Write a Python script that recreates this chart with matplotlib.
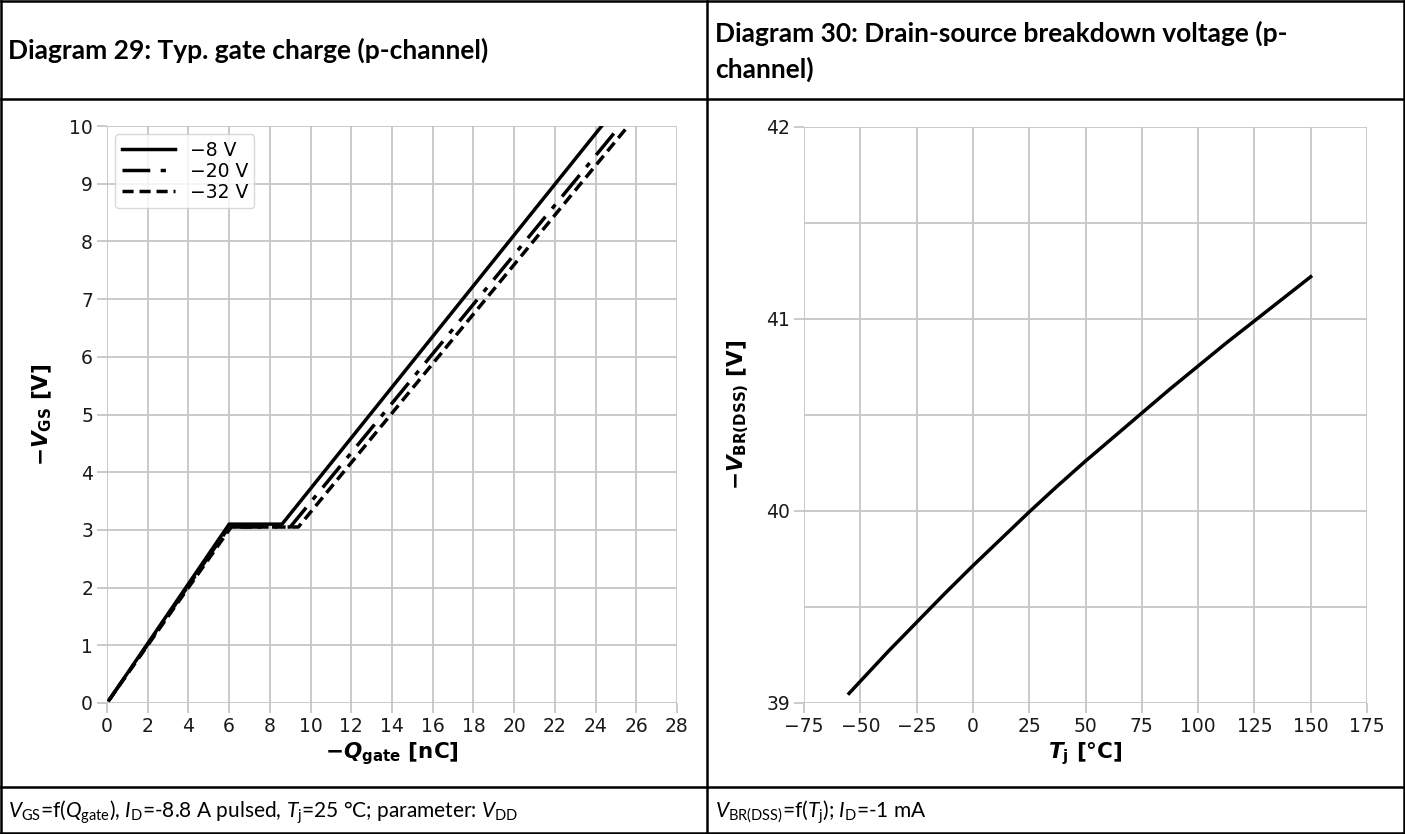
import matplotlib
matplotlib.use("Agg")
import matplotlib.pyplot as plt
from matplotlib.lines import Line2D
from matplotlib.ticker import MultipleLocator

plt.rcParams['font.family'] = ['DejaVu Sans']
plt.rcParams['mathtext.fontset'] = 'custom'
plt.rcParams['mathtext.rm'] = 'Lato'
plt.rcParams['mathtext.it'] = 'Lato:italic'
plt.rcParams['mathtext.bf'] = 'Lato:bold'

# ---- data: diagram 29, gate charge ----
q_8v = [0.1, 6.0, 8.6, 24.3]
v_8v = [0.05, 3.1, 3.1, 10.0]
q_20v = [0.1, 6.0, 9.0, 25.2]
v_20v = [0.05, 3.05, 3.05, 10.0]
q_32v = [0.1, 6.1, 9.4, 25.6]
v_32v = [0.05, 3.05, 3.05, 10.0]
vdd_labels = ['\u22128 V', '\u221220 V', '\u221232 V']

# ---- data: diagram 30, breakdown voltage ----
tj = [-55, -37.5, -25, -12.5, 0, 12.5, 25, 37.5, 50, 62.5, 75, 87.5, 100, 112.5, 125, 137.5, 150]
vbr = [39.05, 39.27, 39.42, 39.57, 39.715, 39.855, 39.995, 40.13, 40.26, 40.385,
       40.51, 40.635, 40.755, 40.875, 40.99, 41.105, 41.22]

W, H = 1405, 834
fig = plt.figure(figsize=(W / 100, H / 100), dpi=100)

def fx(px):
    return px / W

def fy(py):
    return 1 - py / H

# table lines
lw_tab = 1.8
for (x0, y0, x1, y1) in [(1, 1, 1404, 1), (1, 833, 1404, 833), (1, 1, 1, 833),
                         (1404, 1, 1404, 833), (1, 99, 1404, 99), (1, 787, 1404, 787),
                         (707, 1, 707, 833)]:
    fig.add_artist(Line2D([fx(x0), fx(x1)], [fy(y0), fy(y1)], color='black',
                          lw=lw_tab, transform=fig.transFigure))

title_kw = dict(family='Lato', fontsize=19, fontweight='bold', va='center', ha='left')
fig.text(fx(8), fy(50), 'Diagram 29: Typ. gate charge (p-channel)', **title_kw)
fig.text(fx(715), fy(51), 'Diagram 30: Drain-source breakdown voltage (p-\nchannel)',
         linespacing=1.5, **title_kw)

foot_kw = dict(family='Lato', fontsize=15, va='center', ha='left')
fig.text(fx(8), fy(812), r'$V_{\mathrm{GS}}$=f($Q_{\mathrm{gate}}$), $I_{\mathrm{D}}$=-8.8 A pulsed, '
         r'$T_{\mathrm{j}}$=25 °C; parameter: $V_{\mathrm{DD}}$', **foot_kw)
fig.text(fx(715), fy(812), r'$V_{\mathrm{BR(DSS)}}$=f($T_{\mathrm{j}}$); $I_{\mathrm{D}}$=-1 mA', **foot_kw)

grid_c = '#c6c6c6'
tick_fs = 13.5
label_kw = dict(fontsize=15.5, fontweight='bold', math_fontfamily='dejavusans')

def style(ax):
    for s in ax.spines.values():
        s.set_visible(False)
    ax.grid(True, which='both', color=grid_c, lw=1.3)
    ax.set_axisbelow(True)
    ax.tick_params(which='major', length=7, width=1.3, color=grid_c,
                   labelsize=tick_fs, labelcolor='#1a1a1a', pad=3)
    ax.tick_params(which='minor', length=0)

# left plot
ax1 = fig.add_axes([fx(107), fy(703), fx(677) - fx(107), fy(126) - fy(703)])
style(ax1)
ax1.plot(q_8v, v_8v, color='black', lw=2.5, label=vdd_labels[0])
ax1.plot(q_20v, v_20v, color='black', lw=2.5, linestyle=(0, (8, 3, 1.5, 3)), label=vdd_labels[1])
ax1.plot(q_32v, v_32v, color='black', lw=2.5, linestyle=(0, (3.2, 1.7)), label=vdd_labels[2])
ax1.set_xlim(0, 28)
ax1.set_ylim(0, 10)
ax1.xaxis.set_major_locator(MultipleLocator(2))
ax1.yaxis.set_major_locator(MultipleLocator(1))
ax1.set_xlabel('\u2212$\\mathbfit{Q}_{\\mathbf{gate}}$ [nC]', labelpad=3, **label_kw)
ax1.set_ylabel('\u2212$\\mathbfit{V}_{\\mathbf{GS}}$ [V]', labelpad=11, **label_kw)
leg = ax1.legend(loc='upper left', fontsize=13.5, frameon=True, handlelength=2.8,
                 borderpad=0.35, labelspacing=0.1, handletextpad=0.8, fancybox=True,
                 borderaxespad=0.45)
leg.get_frame().set_edgecolor('#d0d0d0')
leg.get_frame().set_linewidth(1.0)

# right plot
ax2 = fig.add_axes([fx(804), fy(703), fx(1367) - fx(804), fy(127) - fy(703)])
style(ax2)
ax2.plot(tj, vbr, color='black', lw=2.5)
ax2.set_xlim(-75, 175)
ax2.set_ylim(39, 42)
ax2.xaxis.set_major_locator(MultipleLocator(25))
ax2.yaxis.set_major_locator(MultipleLocator(1))
ax2.yaxis.set_minor_locator(MultipleLocator(0.5))
ax2.set_xlabel('$\\mathbfit{T}_{\\mathbf{j}}$ [°C]', labelpad=3, **label_kw)
ax2.set_ylabel('\u2212$\\mathbfit{V}_{\\mathbf{BR(DSS)}}$ [V]', labelpad=11, **label_kw)

fig.savefig('out.png', dpi=100)
